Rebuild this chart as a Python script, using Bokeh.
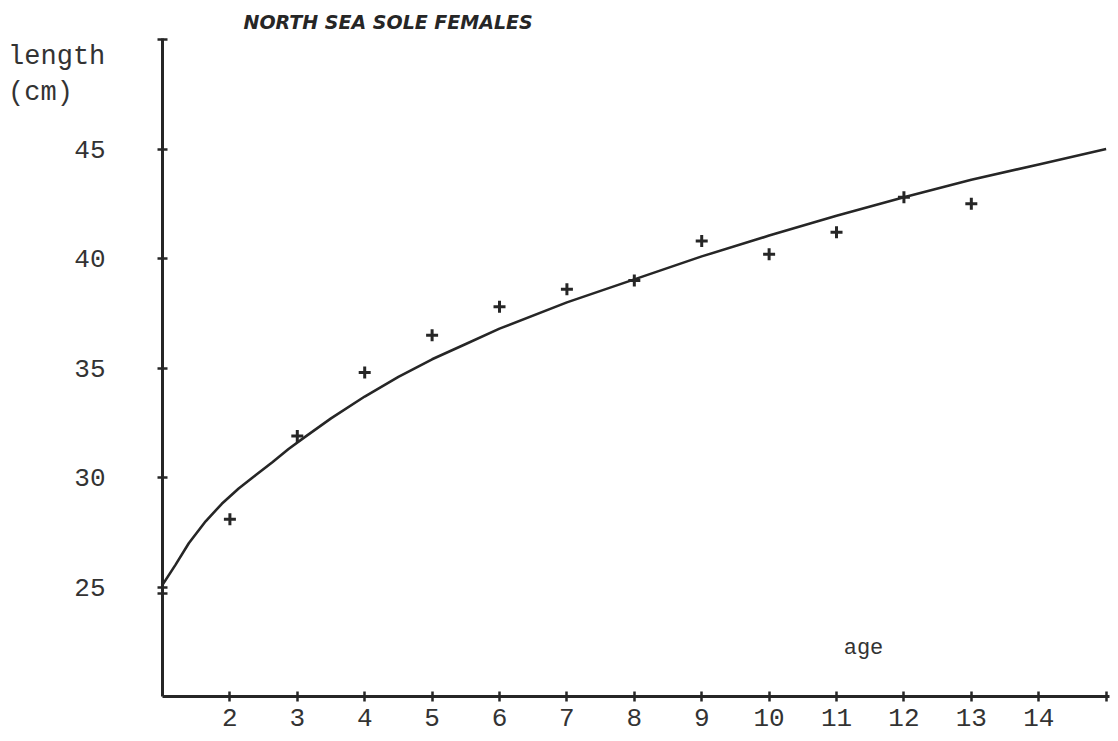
from bokeh.plotting import figure
from bokeh.models import FixedTicker, Label, Title
from bokeh.embed import file_html
from bokeh.resources import INLINE

# Observed mean lengths (cm) at age (years)
ages = [2, 3, 4, 5, 6, 7, 8, 9, 10, 11, 12, 13]
lengths = [28.1, 31.9, 34.8, 36.5, 37.8, 38.6, 39.0, 40.8, 40.2, 41.2, 42.8, 42.5]

# Fitted growth curve
curve_age = [1.0, 1.19, 1.39, 1.64, 1.88, 2.13, 2.38, 2.63, 2.87, 3.09, 3.5, 4.0, 4.5,
             5.0, 5.5, 6.0, 7.0, 8.0, 9.0, 10.0, 11.0, 12.0, 13.0, 14.0, 15.0]
curve_len = [25.1, 26.0, 27.0, 28.0, 28.8, 29.5, 30.1, 30.7, 31.3, 31.8, 32.7, 33.7, 34.6,
             35.4, 36.1, 36.8, 38.0, 39.05, 40.1, 41.05, 41.95, 42.8, 43.6, 44.3, 45.0]

x_ticks = [2, 3, 4, 5, 6, 7, 8, 9, 10, 11, 12, 13, 14, 15]
y_ticks = [25, 30, 35, 40, 45, 50]

INK = "#262626"
MONO = "Liberation Mono"

p = figure(width=1116, height=740, x_range=(1, 15.05), y_range=(20, 50.05),
           output_backend="svg", toolbar_location=None,
           min_border_left=162, min_border_right=7,
           min_border_top=38, min_border_bottom=44)
p.outline_line_color = None
p.xgrid.visible = False
p.ygrid.visible = False
p.background_fill_color = "white"
p.border_fill_color = "white"

for ax in (p.xaxis[0], p.yaxis[0]):
    ax.axis_line_width = 3
    ax.axis_line_color = INK
    ax.major_tick_line_color = INK
    ax.major_tick_line_width = 2.5
    ax.major_tick_in = 5
    ax.major_tick_out = 5
    ax.minor_tick_line_color = INK
    ax.minor_tick_line_width = 2.5
    ax.minor_tick_in = 5
    ax.minor_tick_out = 5
    ax.major_label_text_font = MONO
    ax.major_label_text_font_size = "26px"
    ax.major_label_text_color = "#333333"

p.xaxis.ticker = FixedTicker(ticks=x_ticks, minor_ticks=[])
p.xaxis.major_label_overrides = {15: ""}
p.xaxis.major_label_standoff = 7

yax = p.yaxis[0]
yax.ticker = FixedTicker(ticks=y_ticks, minor_ticks=[24.7])
yax.major_label_overrides = {50: ""}
yax.major_label_standoff = 52
yax.axis_label = "\n\nlength\n(cm)  "
yax.axis_label_orientation = "horizontal"
yax.axis_label_standoff = -34
yax.axis_label_text_font = MONO
yax.axis_label_text_font_size = "27px"
yax.axis_label_text_font_style = "normal"
yax.axis_label_text_color = "#333333"
for al in ("end", "right"):
    try:
        yax.axis_label_align = al
        break
    except Exception:
        pass

p.line(curve_age, curve_len, line_width=2.6, color=INK)
p.scatter(ages, lengths, marker="cross", size=12, line_width=3, color=INK)

p.add_layout(Title(text="NORTH SEA SOLE FEMALES", align="left", offset=81,
                   text_font="DejaVu Sans", text_font_style="bold italic",
                   text_font_size="19px", text_color=INK, standoff=11), "above")

p.add_layout(Label(x=11.4, y=22.2, text="age",
                   text_font=MONO, text_font_size="22px", text_color="#333333",
                   text_align="center", text_baseline="middle"))

open("out.html", "w").write(file_html(p, INLINE))
